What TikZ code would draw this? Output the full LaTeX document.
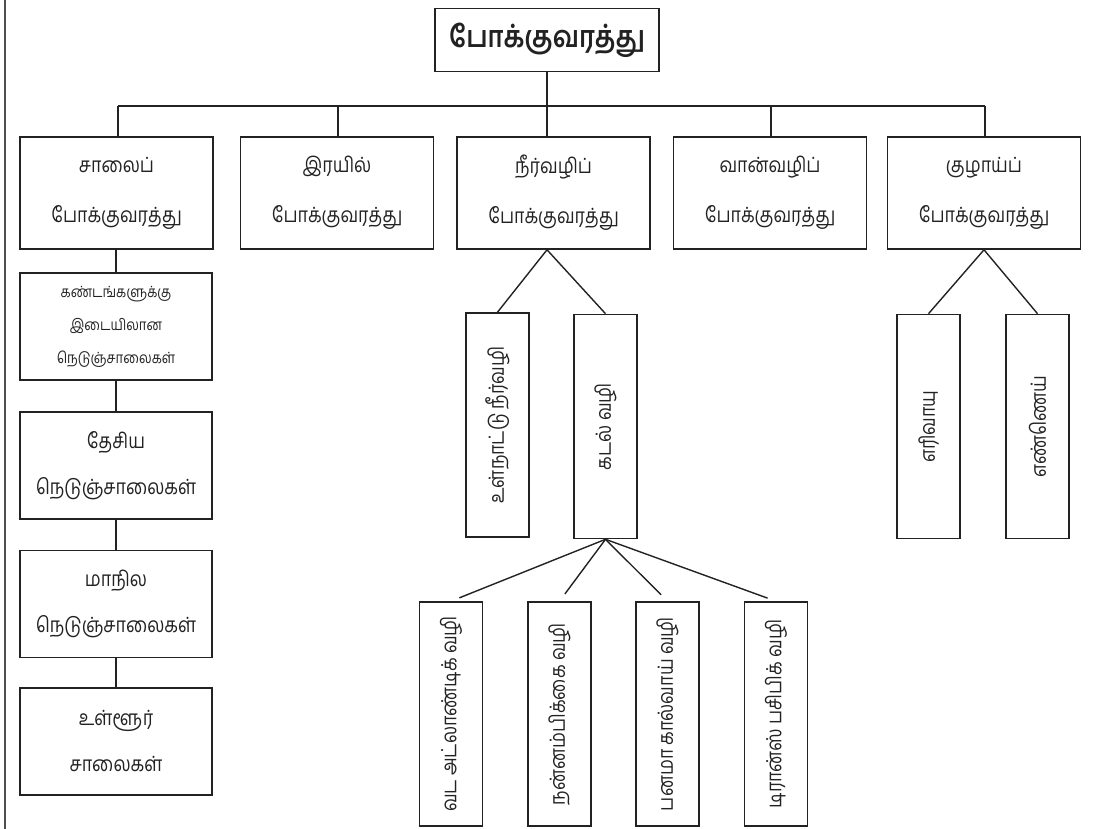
\documentclass[tikz,border=0pt]{standalone}
\usepackage{fontspec}
\newfontfamily\ta[Script=Tamil, FakeStretch=0.85]{Hind Madurai}
\usetikzlibrary{calc}
\definecolor{ink}{HTML}{222222}
\begin{document}
\begin{tikzpicture}[x=1pt,y=-1pt,
  box/.style={draw=ink, line width=1.6pt, inner sep=2pt, align=center, text=ink,
    font=\ta\fontsize{21}{46}\selectfont},
  lbox/.style={box, minimum width=193pt, minimum height=112pt, font=\ta\fontsize{21}{50}\selectfont},
  cbox/.style={box, minimum width=192pt, minimum height=107pt},
  vbox/.style={box, rotate=90, inner sep=0pt, minimum width=224pt, minimum height=63pt},
  ln/.style={draw=ink, line width=1.4pt}]
\useasboundingbox (0,0) rectangle (1094,829);
\draw[line width=2.6pt, draw=ink!80] (5,0) -- (5,829);
% root
\node[box, line width=1.8pt, minimum width=224pt, minimum height=63pt,
  font=\ta\bfseries\fontsize{30}{32}\selectfont] (root) at (547,40) {போக்குவரத்து};
% level 1
\node[lbox] (road)  at (116.5,193) {சாலைப்\\போக்குவரத்து};
\node[lbox] (rail)  at (337,193)   {இரயில்\\போக்குவரத்து};
\node[lbox] (water) at (553.5,193) {நீர்வழிப்\\போக்குவரத்து};
\node[lbox] (air)   at (770,193)   {வான்வழிப்\\போக்குவரத்து};
\node[lbox] (pipe)  at (984,193)   {குழாய்ப்\\போக்குவரத்து};
% bus
\coordinate (busL) at (118,106);
\coordinate (busR) at (985,106);
\coordinate (busM) at (root.south |- busL);
\draw[ln] (root.south) -- (busM);
\draw[ln] (busL) -- (busR);
\draw[ln] (busL) -- (busL |- road.north);
\draw[ln] (338,106) -- (338,0 |- rail.north);
\draw[ln] (busM) -- (busM |- water.north);
\draw[ln] (771,106) -- (771,0 |- air.north);
\draw[ln] (busR) -- (busR |- pipe.north);
% road column
\node[cbox, font=\ta\fontsize{15.5}{33}\selectfont] (k1) at (116,326.5) {கண்டங்களுக்கு\\இடையிலான\\நெடுஞ்சாலைகள்};
\node[cbox] (k2) at (116,465.5) {தேசிய\\நெடுஞ்சாலைகள்};
\node[cbox] (k3) at (116,604) {மாநில\\நெடுஞ்சாலைகள்};
\node[cbox] (k4) at (116,741.5) {உள்ளூர்\\சாலைகள்};
\draw[ln] (road.south -| k1.north) -- (k1.north);
\draw[ln] (k1) -- (k2);
\draw[ln] (k2) -- (k3);
\draw[ln] (k3) -- (k4);
% water
\node[vbox] (inland) at (497.5,425) {உள்நாட்டு நீர்வழி};
\node[vbox] (sea)    at (605.5,426.5) {கடல் வழி};
\coordinate (wapex) at (water.south -| root.south);
\draw[ln] (wapex) -- (inland.east);
\draw[ln] (wapex) -- (sea.east);
% sea routes
\node[vbox] (s1) at (451,714) {வட அட்லாண்டிக் வழி};
\node[vbox] (s2) at (559.5,714) {நன்னம்பிக்கை வழி};
\node[vbox] (s3) at (667.5,714) {பனமா கால்வாய் வழி};
\node[vbox] (s4) at (776,714) {டிரான்ஸ் பசிபிக் வழி};
\foreach \s in {s1,s2,s3,s4}
  \draw[ln, shorten >=9pt] (sea.west) -- (\s.east);
% pipe
\node[vbox] (gas) at (928.5,426.5) {எரிவாயு};
\node[vbox] (oil) at (1037.5,426.5) {எண்ணெய்};
\draw[ln] (pipe.south) -- (gas.east);
\draw[ln] (pipe.south) -- (oil.east);
\end{tikzpicture}
\end{document}
